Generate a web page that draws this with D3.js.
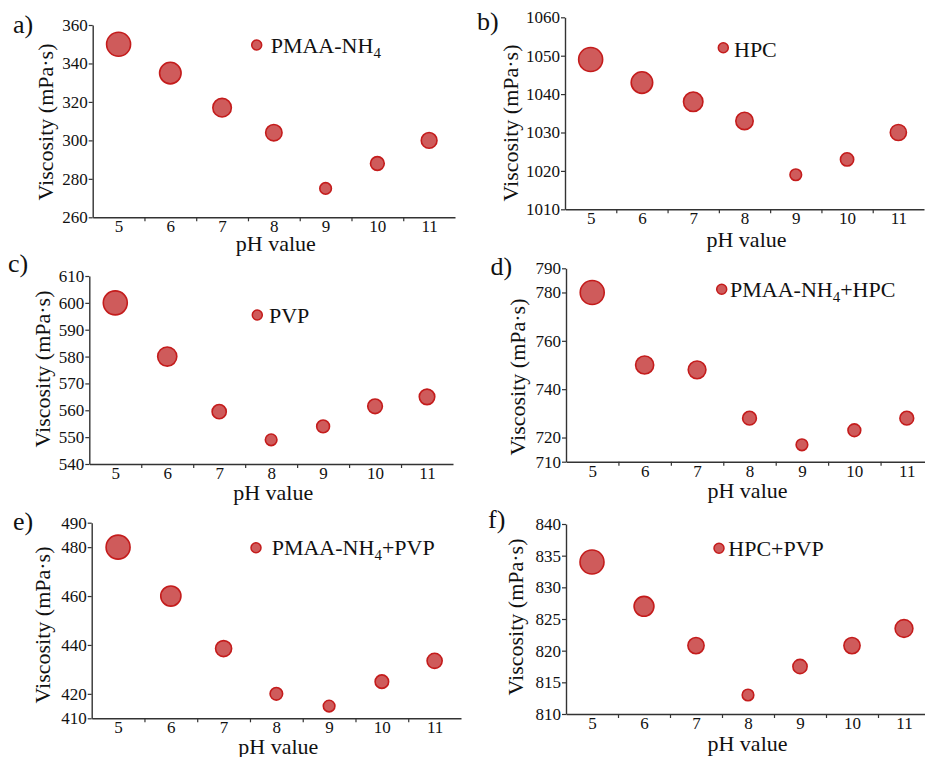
<!DOCTYPE html>
<html>
<head>
<meta charset="utf-8">
<script src="https://cdn.jsdelivr.net/npm/d3@7"></script>
<style>
  html, body { margin: 0; padding: 0; background: #fff; }
  svg { display: block; }
  svg text { font-family: "Liberation Serif", "Times New Roman", serif !important; fill: #111; }
</style>
</head>
<body>
<svg id="chart" width="925" height="757"></svg>
<script>
// ---- data ----
const phValues = [5, 6, 7, 8, 9, 10, 11];
const visA = [350, 335, 317, 304, 275, 288, 300];
const visB = [1049, 1043, 1038, 1033, 1019, 1023, 1030];
const visC = [600, 580, 559.5, 549, 554, 561.5, 565];
const visD = [780, 750, 748, 728, 717, 723, 728];
const visE = [480, 460, 438.5, 420, 415, 425, 433.5];
const visF = [834, 827, 820.8, 813, 817.5, 820.8, 823.5];

const ticksA = [260, 280, 300, 320, 340, 360];
const ticksB = [1010, 1020, 1030, 1040, 1050, 1060];
const ticksC = [540, 550, 560, 570, 580, 590, 600, 610];
const ticksD = [710, 720, 740, 760, 780, 790];
const ticksE = [410, 420, 440, 460, 480, 490];
const ticksF = [810, 815, 820, 825, 830, 835, 840];

// legend names: [main, subscript, rest]
const nameA = ["PMAA-NH", "4", ""];
const nameB = ["HPC", "", ""];
const nameC = ["PVP", "", ""];
const nameD = ["PMAA-NH", "4", "+HPC"];
const nameE = ["PMAA-NH", "4", "+PVP"];
const nameF = ["HPC+PVP", "", ""];

const panelLetters = ["a)", "b)", "c)", "d)", "e)", "f)"];
const xTitle = "pH value";
const yTitle = "Viscosity (mPa·s)";

// ---- layout (positions only) ----
const layout = [
  { values: visA, ticks: ticksA, name: nameA, left: 92.7, right: 455, top: 25, bottom: 217.3,
    letter: [13, 33], ytitle: [53, 122], xtitleY: 251, legend: [256.7, 45, 270.7, 53] },
  { values: visB, ticks: ticksB, name: nameB, left: 565, right: 924, top: 17.3, bottom: 209.3,
    letter: [477, 29.5], ytitle: [518, 123], xtitleY: 247, legend: [723.3, 47.7, 734, 56.5] },
  { values: visC, ticks: ticksC, name: nameC, left: 89.3, right: 453, top: 276, bottom: 464,
    letter: [8, 271.5], ytitle: [50, 369], xtitleY: 500, legend: [257.3, 315, 269, 322.7] },
  { values: visD, ticks: ticksD, name: nameD, left: 566, right: 933, top: 268.3, bottom: 461.7,
    letter: [490.5, 275], ytitle: [525, 377], xtitleY: 498, legend: [721.7, 289.3, 730, 296.7] },
  { values: visE, ticks: ticksE, name: nameE, left: 91.7, right: 461, top: 522.7, bottom: 718.3,
    letter: [13, 530], ytitle: [50, 625], xtitleY: 754, legend: [256, 547.7, 271.7, 555] },
  { values: visF, ticks: ticksF, name: nameF, left: 566, right: 930, top: 524, bottom: 714,
    letter: [488, 528], ytitle: [523, 617], xtitleY: 751, legend: [719, 548.3, 728.3, 556] }
];

const fillCol = "#cf5b5b";
const strokeCol = "#c41c1c";
const axisCol = "#333";
const serif = '"Liberation Serif", "Times New Roman", serif';

const svg = d3.select("#chart");

layout.forEach((p, i) => {
  const g = svg.append("g");
  const x = d3.scaleLinear().domain([phValues[0] - 0.5, phValues[phValues.length - 1] + 0.5]).range([p.left, p.right]);
  const y = d3.scaleLinear().domain([p.ticks[0], p.ticks[p.ticks.length - 1]]).range([p.bottom, p.top]);
  const r = d3.scaleLinear().domain(d3.extent(p.values)).range([5.8, 12]);

  // y axis
  const ya = g.append("g").attr("transform", `translate(${p.left},0)`)
    .call(d3.axisLeft(y).tickValues(p.ticks).tickSize(4).tickPadding(1).tickSizeOuter(0).tickFormat(d3.format("d")));
  ya.attr("font-family", serif);
  ya.select(".domain").attr("stroke", axisCol).attr("stroke-width", 1.4);
  ya.selectAll(".tick line").attr("stroke", axisCol).attr("stroke-width", 1.2);
  ya.selectAll(".tick text").attr("font-size", 17).style("font-family", serif).attr("fill", "#111");

  // x axis: labels at pH centers
  const xa = g.append("g").attr("transform", `translate(0,${p.bottom})`)
    .call(d3.axisBottom(x).tickValues(phValues).tickSize(0).tickPadding(3).tickSizeOuter(0).tickFormat(d3.format("d")));
  xa.attr("font-family", serif);
  xa.select(".domain").attr("stroke", axisCol).attr("stroke-width", 1.4);
  xa.selectAll(".tick text").attr("font-size", 17).style("font-family", serif).attr("fill", "#111");
  // x tick marks between categories
  const mids = phValues.slice(0, -1).map(v => v + 0.5);
  const xm = g.append("g").attr("transform", `translate(0,${p.bottom})`)
    .call(d3.axisBottom(x).tickValues(mids).tickSize(4).tickFormat(""));
  xm.select(".domain").remove();
  xm.selectAll(".tick line").attr("stroke", axisCol).attr("stroke-width", 1.2);

  // points
  g.append("g").selectAll("circle")
    .data(phValues.map((ph, k) => ({ ph, v: p.values[k] })))
    .join("circle")
    .attr("cx", d => x(d.ph))
    .attr("cy", d => y(d.v))
    .attr("r", d => r(d.v))
    .attr("fill", fillCol)
    .attr("stroke", strokeCol)
    .attr("stroke-width", 1.6);

  // legend
  g.append("circle").attr("cx", p.legend[0]).attr("cy", p.legend[1]).attr("r", 5)
    .attr("fill", fillCol).attr("stroke", strokeCol).attr("stroke-width", 1.5);
  const lt = g.append("text").attr("x", p.legend[2]).attr("y", p.legend[3]).attr("font-size", 22).style("font-family", serif);
  lt.append("tspan").text(p.name[0]);
  if (p.name[1]) {
    lt.append("tspan").attr("font-size", 15).attr("dy", 5).text(p.name[1]);
    if (p.name[2]) lt.append("tspan").attr("dy", -5).text(p.name[2]);
  } else if (p.name[2]) {
    lt.append("tspan").text(p.name[2]);
  }

  // panel letter
  g.append("text").attr("x", p.letter[0]).attr("y", p.letter[1]).attr("font-size", 26).style("font-family", serif).text(panelLetters[i]);

  // axis titles
  g.append("text").attr("transform", `translate(${p.ytitle[0]},${p.ytitle[1]}) rotate(-90)`)
    .attr("text-anchor", "middle").attr("font-size", 22).style("font-family", serif).text(yTitle);
  g.append("text").attr("x", (p.left + Math.min(p.right, 925)) / 2 + 2).attr("y", p.xtitleY)
    .attr("text-anchor", "middle").attr("font-size", 22).style("font-family", serif).text(xTitle);
});
</script>
</body>
</html>
